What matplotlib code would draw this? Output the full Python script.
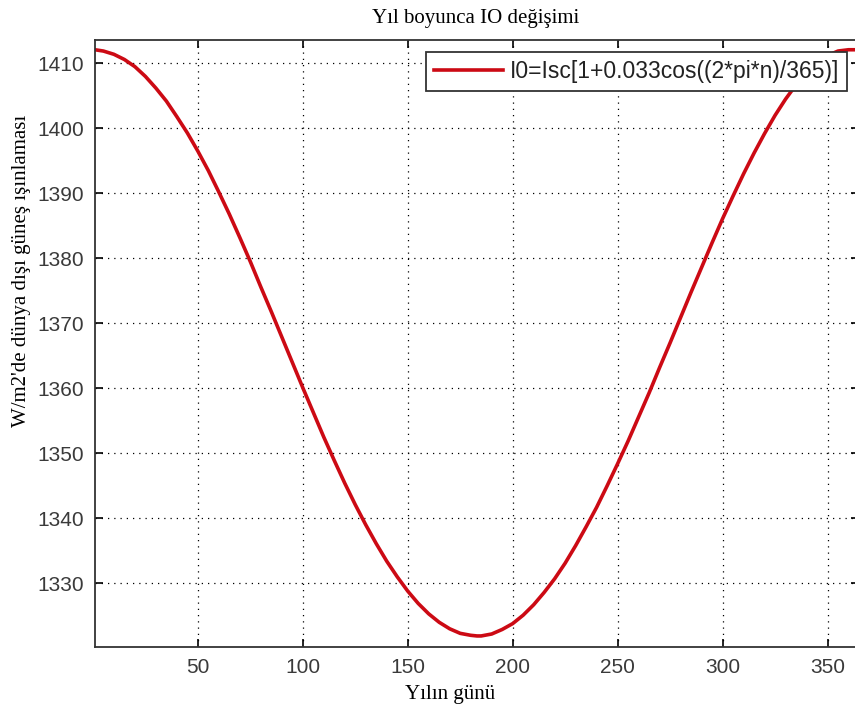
import matplotlib
matplotlib.use("Agg")
import matplotlib.pyplot as plt

# values
days = [1, 5, 10, 15, 20, 25, 30, 35, 40, 45, 50, 55, 60, 65, 70, 75, 80, 85,
        90, 95, 100, 105, 110, 115, 120, 125, 130, 135, 140, 145, 150, 155,
        160, 165, 170, 175, 180, 183, 185, 190, 195, 200, 205, 210, 215, 220,
        225, 230, 235, 240, 245, 250, 255, 260, 265, 270, 275, 280, 285, 290,
        295, 300, 305, 310, 315, 320, 325, 330, 335, 340, 345, 350, 355, 360,
        365]
io = [1412.1, 1411.9, 1411.4, 1410.6, 1409.5, 1408.0, 1406.2, 1404.2, 1401.8,
      1399.3, 1396.5, 1393.5, 1390.2, 1386.8, 1383.2, 1379.5, 1375.6, 1371.8,
      1367.9, 1364.0, 1360.1, 1356.3, 1352.5, 1348.9, 1345.4, 1342.1, 1339.0,
      1336.1, 1333.4, 1331.0, 1328.8, 1326.9, 1325.3, 1324.0, 1323.0, 1322.3,
      1322.0, 1321.9, 1321.9, 1322.2, 1322.9, 1323.8, 1325.1, 1326.7, 1328.6,
      1330.7, 1333.1, 1335.8, 1338.7, 1341.7, 1345.0, 1348.4, 1351.9, 1355.6,
      1359.3, 1363.2, 1367.0, 1370.9, 1374.8, 1378.6, 1382.4, 1386.1, 1389.6,
      1393.0, 1396.2, 1399.2, 1402.0, 1404.5, 1406.7, 1408.6, 1410.1, 1411.2,
      1411.9, 1412.1, 1412.1]
xticks = [50, 100, 150, 200, 250, 300, 350]
yticks = [1330, 1340, 1350, 1360, 1370, 1380, 1390, 1400, 1410]

fig = plt.figure(figsize=(8.55, 7.11), dpi=100)
ax = fig.add_axes([95 / 855, 64 / 711, 764 / 855, 607 / 711])

ax.plot(days, io, color="#cc0a14", linewidth=2.6,
        label="I0=Isc[1+0.033cos((2*pi*n)/365)]")

ax.set_xlim(1, 365)
ax.set_ylim(1320.2, 1413.6)
ax.set_xticks(xticks)
ax.set_yticks(yticks)
ax.grid(True, color="black", linestyle=(0, (1, 4)), linewidth=0.9)
ax.tick_params(direction="in", top=True, right=True, length=6, width=1.2,
               labelsize=15, labelcolor="#3a3a3a", pad=8)
for lbl in ax.get_xticklabels() + ax.get_yticklabels():
    lbl.set_family("Liberation Sans")
for sp in ax.spines.values():
    sp.set_linewidth(1.3)
    sp.set_color("#333333")

fig.text(476 / 855, 1 - 19 / 711, "Yıl boyunca IO değişimi", ha="center",
         va="center", family="Liberation Serif", fontsize=15)
fig.text(450 / 855, 1 - 694 / 711, "Yılın günü", ha="center", va="center",
         family="Liberation Serif", fontsize=15)
fig.text(22 / 855, 1 - 271 / 711, "W/m2'de dünya dışı güneş ışınlaması",
         ha="center", va="center", rotation=90,
         family="Liberation Serif", fontsize=15)

leg = ax.legend(loc="upper right", bbox_to_anchor=(847 / 855, 1 - 52 / 711),
                bbox_transform=fig.transFigure, borderaxespad=0,
                fancybox=False, framealpha=1, edgecolor="#333333",
                prop={"family": "Liberation Sans", "size": 16.5},
                handlelength=3.0, borderpad=0.35, handletextpad=0.3)
leg.get_frame().set_linewidth(1.3)
for t in leg.get_texts():
    t.set_color("#222222")

fig.savefig("out.png", dpi=100)
